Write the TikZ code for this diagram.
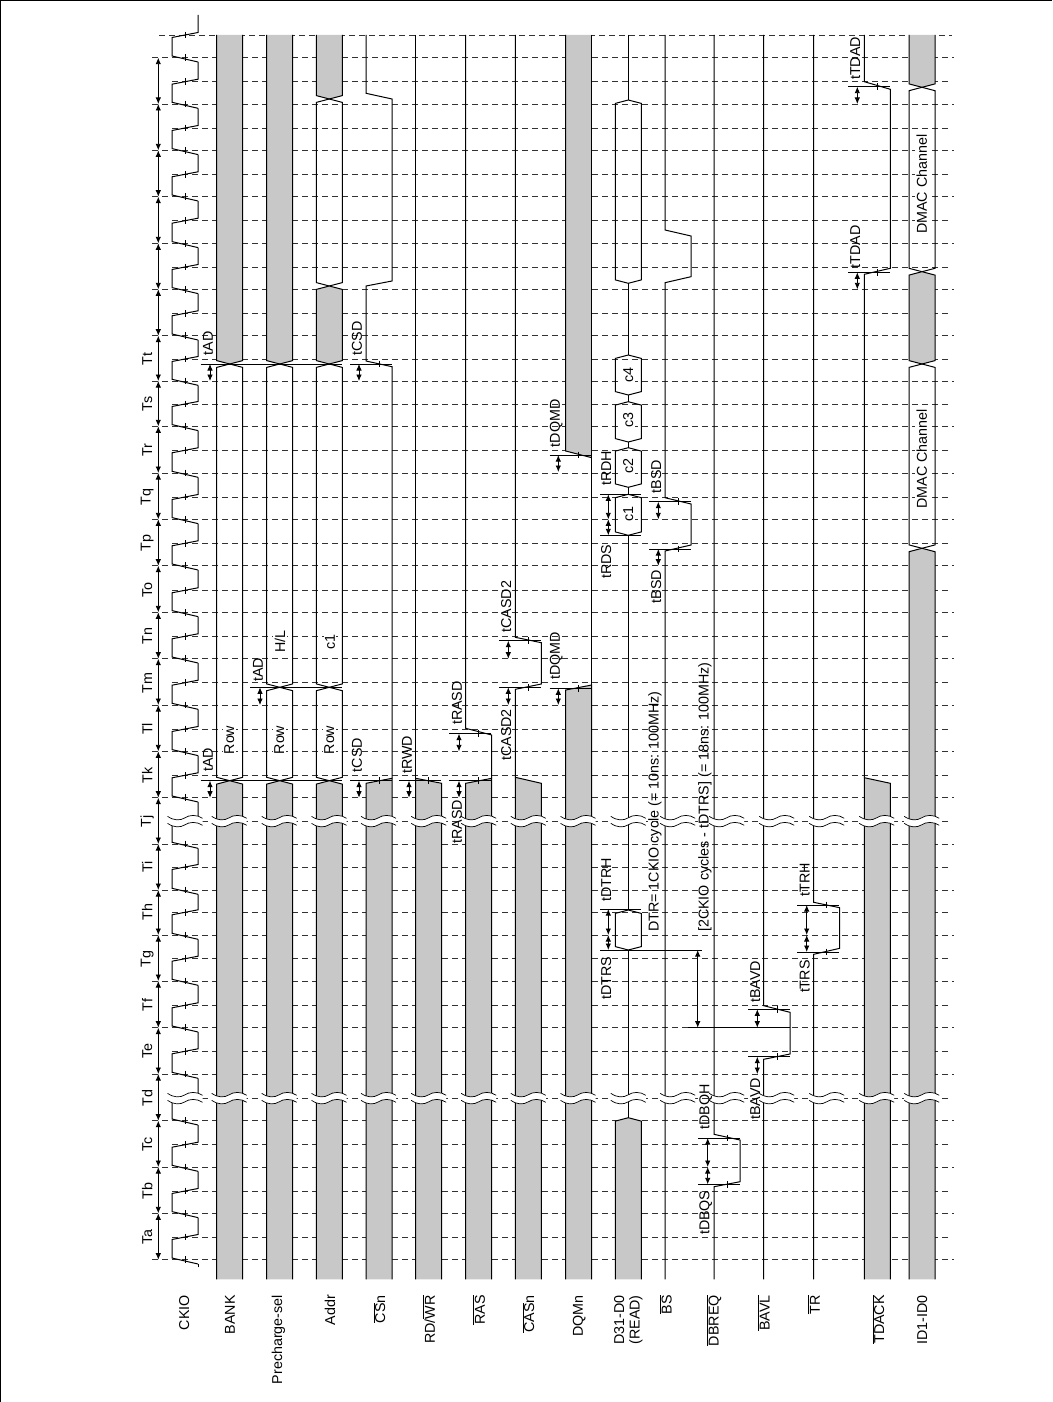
\documentclass[tikz,border=0pt]{standalone}
\usepackage{fontspec}
\setmainfont{Liberation Sans}
\usetikzlibrary{arrows.meta}
\definecolor{bargrey}{HTML}{C8C8C8}
\tikzset{
  sigline/.style={line width=1pt, line join=miter},
  gridline/.style={line width=0.9pt, black!80, dash pattern=on 5.5pt off 4.5pt},
  timearrow/.style={{Latex[length=6.5pt,width=5.5pt]}-{Latex[length=6.5pt,width=5.5pt]}, line width=0.9pt},
  sigtext/.style={rotate=90, inner sep=0pt, font=\fontsize{14.3}{15.5}\selectfont},
  busvalue/.style={sigtext, fill=white, inner sep=1.5pt}
}
\newcommand{\ov}[1]{$\overline{\mbox{#1}}$}
% one clock period: boundary, middle, next boundary
\newcommand{\clockcycle}[3]{
  \draw[gridline] (152,#1) -- (954,#1);
  \draw[gridline] (172,#2) -- (951.7,#2);
  \draw[sigline] (198,#1+4.3) -- (172,#1-1.7) -- (172,#2+2.5) -- (198,#2-2.5) -- (198,#3+4.3);
  \draw[sigline] (185,#1-3.3) -- ++(0,6.6);
  \draw[sigline] (185,#2-3.3) -- ++(0,6.6);
  \draw[timearrow] (158.3,#1) -- (158.3,#3);
}
% bus pieces, #1 is the left edge of the 26 wide column
\newcommand{\bushex}[3]{\draw[sigline] (#1+13,#2) -- (#1+26,#2+3.4) -- (#1+26,#3-3.4) -- (#1+13,#3) -- (#1,#3-3.4) -- (#1,#2+3.4) -- cycle;}
\newcommand{\greyhex}[3]{\draw[sigline, fill=bargrey] (#1+13,#2) -- (#1+26,#2+3.4) -- (#1+26,#3-3.4) -- (#1+13,#3) -- (#1,#3-3.4) -- (#1,#2+3.4) -- cycle;}
\newcommand{\greytop}[2]{
  \fill[bargrey] (#1,35) -- (#1+26,35) -- (#1+26,#2-3.4) -- (#1+13,#2) -- (#1,#2-3.4) -- cycle;
  \draw[sigline] (#1,35) -- (#1,#2-3.4) -- (#1+13,#2) -- (#1+26,#2-3.4) -- (#1+26,35);
}
\newcommand{\greybot}[2]{
  \fill[bargrey] (#1,1279.3) -- (#1+26,1279.3) -- (#1+26,#2+3.4) -- (#1+13,#2) -- (#1,#2+3.4) -- cycle;
  \draw[sigline] (#1,1279.3) -- (#1,#2+3.4) -- (#1+13,#2) -- (#1+26,#2+3.4) -- (#1+26,1279.3);
}
\newcommand{\greyramp}[3]{
  \fill[bargrey] (#1,#2) -- (#1+26,#3) -- (#1+26,1279.3) -- (#1,1279.3) -- cycle;
  \draw[sigline] (#1,1279.3) -- (#1,#2) -- (#1+26,#3) -- (#1+26,1279.3);
}
% white gap across a column where the time axis is cut
\newcommand{\axiscut}[2]{
  \fill[white] (#1-17.5,#2-5) .. controls (#1-11,#2-0.5) and (#1-5,#2-0.5) .. (#1,#2-3.5) .. controls (#1+4,#2-6.5) and (#1+12,#2-7) .. (#1+17.5,#2-3)
    -- (#1+17.5,#2+4) .. controls (#1+12,#2) and (#1+4,#2+0.5) .. (#1,#2+3.5) .. controls (#1-5,#2+6.5) and (#1-11,#2+6.5) .. (#1-17.5,#2+2) -- cycle;
  \draw[line width=0.7pt] (#1-17.5,#2-5) .. controls (#1-11,#2-0.5) and (#1-5,#2-0.5) .. (#1,#2-3.5) .. controls (#1+4,#2-6.5) and (#1+12,#2-7) .. (#1+17.5,#2-3);
  \draw[line width=0.7pt] (#1-17.5,#2+2) .. controls (#1-11,#2+6.5) and (#1-5,#2+6.5) .. (#1,#2+3.5) .. controls (#1+4,#2+0.5) and (#1+12,#2) .. (#1+17.5,#2+4);
}

\begin{document}
\begin{tikzpicture}[x=1pt, y=-1pt]
\useasboundingbox (0,0) rectangle (1052,1402);
\draw[line width=2pt] (0,1402) -- (0,0) -- (1052,0);

% clock, grid and T states
\foreach \yb/\ym/\yn/\tname [count=\i] in {1259.7/1237/1213.3/Ta, 1213.3/1191/1167/Tb, 1167/1144.7/1120.7/Tc, 1120.7/1098.3/1074/Td,
  1074/1051.3/1027.7/Te, 1027.7/1005.3/981/Tf, 981/958.7/935/Tg, 935/912.3/890/Th, 890/867/844/Ti, 844/821.3/797.7/Tj,
  797.7/775.3/751.3/Tk, 751.3/729/705/Tl, 705/682.7/658.7/Tm, 658.7/636.3/612.3/Tn, 612.3/590.3/565.7/To, 565.7/543.3/519.3/Tp,
  519.3/497/473/Tq, 473/450.3/426.3/Tr, 426.3/404/381/Ts, 381/359/335.7/Tt}
  {\clockcycle{\yb}{\ym}{\yn}
   \node[sigtext] (state\i) at (147.3,\ym) {\tname};}
\foreach \yb/\ym/\yn in {335.7/313.3/289.3, 289.3/267/243.3, 243.3/220.7/196.7, 196.7/174.3/150.3, 150.3/128/104, 104/81.7/57.7}
  {\clockcycle{\yb}{\ym}{\yn}}
\draw[gridline] (152,57.7) -- (954,57.7);
\draw[gridline] (159,35) -- (951.7,35);
\draw[sigline] (198,1267.3) -- (198,1264);
\draw[sigline] (198,62) -- (172,56) -- (172,37.5) -- (198,32.5) -- (198,15);
\draw[sigline] (185,54.4) -- ++(0,6.6);
\draw[sigline] (185,31.7) -- ++(0,6.6);

% BANK, Precharge-sel, Addr
\greytop{216.7}{364}
\bushex{216.7}{364}{780.7}
\greybot{216.7}{780.7}
\greytop{266.7}{364}
\bushex{266.7}{364}{687.3}
\bushex{266.7}{687.3}{780.7}
\greybot{266.7}{780.7}
\greytop{316.3}{99}
\bushex{316.3}{99}{286}
\greyhex{316.3}{286}{364}
\bushex{316.3}{364}{687.3}
\bushex{316.3}{687.3}{780.7}
\greybot{316.3}{780.7}

% single lines
\draw[sigline] (366,35) -- (366,93.3) -- (392,99) -- (392,281) -- (366,286) -- (366,361) -- (392,366.7) -- (392,778.3);
\draw[sigline] (415.7,35) -- (415.7,778.3);
\draw[sigline] (465.7,35) -- (465.7,728.3) -- (491.7,735) -- (491.7,778.3);
\draw[sigline] (515.3,35) -- (515.3,637.3) -- (541.3,642.7) -- (541.3,684) -- (515.3,689.3) -- (515.3,777.3);
\draw[sigline] (665,35) -- (665,230) -- (691,236) -- (691,276.7) -- (665,282.7) -- (665,497.7) -- (691,504) -- (691,545) -- (665,551) -- (665,1279.3);
\draw[sigline] (714,35) -- (714,1134.3) -- (740,1140) -- (740,1181.7) -- (714,1186.7) -- (714,1279.3);
\draw[sigline] (763.7,35) -- (763.7,1005.7) -- (790,1012.3) -- (790,1054) -- (763.7,1059.3) -- (763.7,1279.3);
\draw[sigline] (813.7,35) -- (813.7,902.3) -- (839.7,907.7) -- (839.7,948.3) -- (813.7,954.3) -- (813.7,1279.3);
\draw[sigline] (864.3,35) -- (864.3,81.7) -- (890.3,89.3) -- (890.3,268.3) -- (864.3,274.3) -- (864.3,777.7);
\greyramp{366}{783.3}{778.3}
\greyramp{415.7}{778.3}{783.3}
\greyramp{465.7}{783.3}{778.3}
\greyramp{515.3}{777.3}{783.3}
\greyramp{864.3}{777.7}{783.3}

% DQMn
\fill[bargrey] (565.7,35) -- (591.7,35) -- (591.7,457.7) -- (565.7,451) -- cycle;
\draw[sigline] (565.7,35) -- (565.7,451) -- (591.7,457.7);
\draw[sigline] (591.7,35) -- (591.7,685);
\greyramp{565.7}{690}{685}

% D31-D0
\foreach \ya/\yb in {35/100, 283.3/355, 395/401.7, 442/447.7, 487.3/494.3, 535.3/910, 950/1117.7}
  \draw[sigline] (628.3,\ya) -- (628.3,\yb);
\foreach \ya/\yb in {100/283.3, 355/395, 401.7/442, 447.7/487.3, 494.3/535.3, 910/950}
  {\bushex{615.3}{\ya}{\yb}}
\greybot{615.3}{1117.7}

% ID1-ID0
\greytop{909}{87.3}
\bushex{909}{87.3}{271.7}
\greyhex{909}{271.7}{364}
\bushex{909}{364}{548.3}
\greybot{909}{548.3}

% reference lines
\draw[sigline] (200.7,364) -- (342,364);
\draw[sigline] (200.7,780.7) -- (342,780.7);
\draw[sigline] (250,687.3) -- (342,687.3);
\foreach \xa/\yy in {350/364, 350/780.7, 399/780.7, 449.3/733.7, 449.3/780.7, 499.3/640.7, 499.3/687.3, 549.5/455, 549.5/688.3,
  649/501.7, 649/549, 698.3/1138, 698.3/1184.3, 748.3/1009.3, 748.3/1056.7, 797.3/905, 797.3/952, 848.3/86.7, 848.3/272.3}
  {\draw[sigline] (\xa,\yy) -- ++(42,0);
   \draw[sigline] (\xa+29.2,\yy-3.3) -- ++(0,6.6);}
\foreach \yy in {494.3, 535.3, 909}
  \draw[sigline] (600,\yy) -- (641.3,\yy);
\draw[sigline] (600,950) -- (701.7,950);
\draw[sigline] (688.3,1027.7) -- (790,1027.7);

% cuts in the time axis
\foreach \cx in {185, 229.2, 279.2, 329, 378.5, 428.7, 478.7, 528.3, 578, 628.3, 677.7, 726.7, 776.7, 826.7, 876.7, 921.7}
  {\axiscut{\cx}{1098.3}
   \axiscut{\cx}{821.3}}

% timing arrows with their names
\foreach \x/\ya/\yb/\ly/\tname [count=\i] in {210/364/381/343.3/tAD, 210/780.7/797.7/760/tAD, 260/687.3/705/670/tAD,
  359/364/381/338.3/tCSD, 359/780.7/797.7/755/tCSD, 409/780.7/797.7/755/tRWD, 459/733.7/751.3/703/tRASD, 459/780.7/797.7/821.7/tRASD,
  508.3/640.7/658.7/606.7/tCASD2, 508.3/687.3/705/735/tCASD2, 558.3/455/472/423.3/tDQMD, 558.3/688.3/705/656/tDQMD,
  608.3/494.3/519.3/468.3/tRDH, 608.3/519.3/535.3/561.7/tRDS, 608.3/909/935/880/tDTRH, 608.3/935/950/978/tDTRS,
  658.3/501.7/519.3/476.7/tBSD, 658.3/549/565.7/586.7/tBSD, 707.7/1138/1167/1106.7/tDBQH, 707.7/1167/1184.3/1212.7/tDBQS,
  757.3/1009.3/1027.7/981.7/tBAVD, 757.3/1056.7/1074/1099/tBAVD, 806.7/905/935/880/tTRH, 806.7/935/952/976.7/tTRS,
  857.3/86.7/104/58.3/tTDAD, 857.3/272.3/289.3/246.7/tTDAD}
  {\draw[timearrow] (\x,\ya) -- (\x,\yb);
   \node[sigtext] (delay\i) at (\x-2,\ly) {\tname};}
\draw[timearrow] (697.7,950) -- (697.7,1027.7);
\node[sigtext, anchor=west] (cycleone) at (655,932) {DTR= 1CKIO cycle (= 10ns: 100MHz)};
\node[sigtext, anchor=west] (cycletwo) at (705,932) {[2CKIO cycles - tDTRS] (= 18ns: 100MHz)};

% values on the buses
\foreach \x/\y/\val [count=\i] in {229.3/740/Row, 279.3/740/Row, 329.3/740/Row, 280/641.7/{H/L}, 330/642.3/c1,
  628.3/514.3/c1, 628.3/466/c2, 628.3/420/c3, 628.3/375/c4, 921.7/184.3/DMAC Channel, 921.7/459/DMAC Channel}
  \node[busvalue] (value\i) at (\x,\y) {\val};

% signal names
\foreach \x/\sname [count=\i] in {184.3/CKIO, 230/BANK, 278.3/Precharge-sel, 330/Addr, 379.3/\ov{CS}n, 429/{RD/\ov{WR}}, 479/\ov{RAS},
  528.3/\ov{CAS}n, 579.3/DQMn, 665.7/\ov{BS}, 714/\ov{DBREQ}, 763.7/\ov{BAVL}, 814/\ov{TR}, 878.3/\ov{TDACK}, 922.3/ID1-ID0}
  \node[sigtext, anchor=east] (signal\i) at (\x,1295) {\sname};
\node[sigtext, anchor=east, align=left] (signaldata) at (628.3,1295) {D31-D0\\(READ)};
\end{tikzpicture}
\end{document}
